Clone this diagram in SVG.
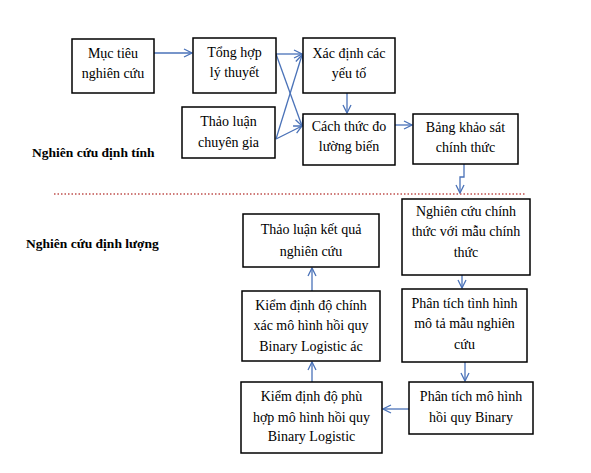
<svg xmlns="http://www.w3.org/2000/svg" width="591" height="473" viewBox="0 0 591 473">
<defs>
<style>
.box{fill:#fff;stroke:#000;stroke-width:1.5}
.t{font-family:"Liberation Serif","Times New Roman",serif;font-size:14px;fill:#000;text-anchor:middle}
.h{font-family:"Liberation Serif","Times New Roman",serif;font-size:13.5px;font-weight:bold;fill:#000}
.c{fill:none;stroke:#4a72b8;stroke-width:1.3;marker-end:url(#ah)}
</style>
<marker id="ah" viewBox="0 0 10 10" refX="9" refY="5" markerWidth="10" markerHeight="10" markerUnits="userSpaceOnUse" orient="auto">
<polyline points="1,1 9,5 1,9" fill="none" stroke="#4a72b8" stroke-width="1.3"/>
</marker>
</defs>
<rect width="591" height="473" fill="#fff"/>
<text class="h" x="32" y="157">Nghiên cứu định tính</text>
<text class="h" x="26" y="248">Nghiên cứu định lượng</text>
<line x1="54" y1="194" x2="526" y2="194" stroke="#c0504d" stroke-width="1.4" stroke-dasharray="1.5,2"/>
<g id="connectors">
<line class="c" x1="154" y1="53" x2="192" y2="53"/>
<line class="c" x1="276" y1="54" x2="302" y2="54"/>
<line class="c" x1="276" y1="54" x2="302" y2="126"/>
<line class="c" x1="276" y1="139" x2="302" y2="126"/>
<line class="c" x1="276" y1="139" x2="302" y2="55"/>
<line class="c" x1="347" y1="93" x2="347" y2="113"/>
<line class="c" x1="395" y1="125" x2="412" y2="125"/>
<polyline class="c" points="464,164 464,177 460,177 460,193"/>
<line class="c" x1="462" y1="275" x2="462" y2="288"/>
<line class="c" x1="465" y1="362" x2="465" y2="381"/>
<line class="c" x1="409" y1="409" x2="383" y2="409"/>
<line class="c" x1="312" y1="382" x2="312" y2="362"/>
<line class="c" x1="312" y1="291" x2="312" y2="268"/>
</g>
<g id="n1"><rect class="box" x="72" y="39" width="82" height="54"/><text class="t" x="113" y="58">Mục tiêu</text><text class="t" x="113" y="78">nghiên cứu</text></g>
<g id="n2"><rect class="box" x="193" y="38" width="83" height="55"/><text class="t" x="234.5" y="57">Tổng hợp</text><text class="t" x="234.5" y="77">lý thuyết</text></g>
<g id="n3"><rect class="box" x="182" y="107" width="93" height="51"/><text class="t" x="228.5" y="126">Thảo luận</text><text class="t" x="228.5" y="147">chuyên gia</text></g>
<g id="n4"><rect class="box" x="303" y="38" width="92" height="55"/><text class="t" x="349" y="58">Xác định các</text><text class="t" x="349" y="78">yếu tố</text></g>
<g id="n5"><rect class="box" x="303" y="114" width="92" height="51"/><text class="t" x="349" y="131">Cách thức đo</text><text class="t" x="349" y="151">lường biến</text></g>
<g id="n6"><rect class="box" x="413" y="114" width="105" height="50"/><text class="t" x="465.5" y="132">Bảng khảo sát</text><text class="t" x="465.5" y="152">chính thức</text></g>
<g id="n7"><rect class="box" x="402" y="199" width="128" height="76"/><text class="t" x="466" y="216">Nghiên cứu chính</text><text class="t" x="466" y="236">thức với mẫu chính</text><text class="t" x="466" y="257">thức</text></g>
<g id="n8"><rect class="box" x="243" y="214" width="136" height="53"/><text class="t" x="311" y="234">Thảo luận kết quả</text><text class="t" x="311" y="256">nghiên cứu</text></g>
<g id="n9"><rect class="box" x="242" y="291" width="138" height="70"/><text class="t" x="311" y="310">Kiểm định độ chính</text><text class="t" x="311" y="330">xác mô hình hồi quy</text><text class="t" x="311" y="351">Binary Logistic ác</text></g>
<g id="n10"><rect class="box" x="402" y="289" width="125" height="73"/><text class="t" x="464.5" y="308">Phân tích tình hình</text><text class="t" x="464.5" y="328">mô tả mẫu nghiên</text><text class="t" x="464.5" y="349">cứu</text></g>
<g id="n11"><rect class="box" x="241" y="382" width="141" height="71"/><text class="t" x="311.5" y="401">Kiểm định độ phù</text><text class="t" x="311.5" y="422">hợp mô hình hồi quy</text><text class="t" x="311.5" y="441">Binary Logistic</text></g>
<g id="n12"><rect class="box" x="409" y="382" width="124" height="52"/><text class="t" x="471" y="401">Phân tích mô hình</text><text class="t" x="471" y="422">hồi quy Binary</text></g>
</svg>
